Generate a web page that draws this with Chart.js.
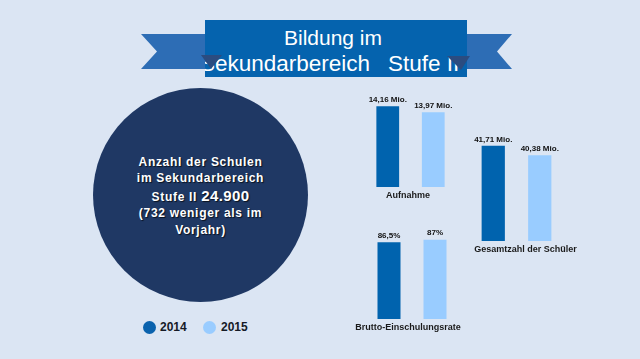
<!DOCTYPE html>
<html>
<head>
<meta charset="utf-8">
<script src="https://cdn.jsdelivr.net/npm/chart.js@4.4.1/dist/chart.umd.min.js"></script>
<style>
  html,body{margin:0;padding:0;}
  body{width:640px;height:359px;background:#dbe5f3;position:relative;overflow:hidden;font-family:"Liberation Sans",Arial,sans-serif;}
  canvas{position:absolute;}
  .circle{position:absolute;left:93px;top:88px;width:215px;height:214px;border-radius:50%;background:#1f3864;}
  .cl{position:absolute;left:93px;width:215px;text-align:center;color:#fff;font-weight:bold;font-size:12px;letter-spacing:0.7px;text-shadow:1px 1px 1px rgba(0,0,0,0.7);white-space:nowrap;}
  .big{font-size:15px;letter-spacing:0.4px;}
  .leg{position:absolute;top:320px;font-weight:bold;font-size:12px;color:#151a26;line-height:14px;}
  .dot{position:absolute;width:13px;height:13px;border-radius:50%;top:321px;}
</style>
</head>
<body>
<svg width="640" height="90" style="position:absolute;left:0;top:0">
  <defs><clipPath id="rc"><rect x="205" y="20" width="262" height="57"/></clipPath></defs>
  <polygon points="141,34 205,34 205,69 141,69 157,51.5" fill="#2d6db5"/>
  <polygon points="467,34 512,34 497,51.5 512,69 467,69" fill="#2d6db5"/>
  <rect x="205" y="20" width="262" height="57" fill="#0563ae"/>
  <text x="333" y="44.5" text-anchor="middle" fill="#fff" font-family="Liberation Sans, Arial, sans-serif" font-size="21">Bildung im</text>
  <g clip-path="url(#rc)">
    <text x="200" y="71" fill="#fff" font-family="Liberation Sans, Arial, sans-serif" font-size="22.5">Sekundarbereich</text>
    <text x="388" y="71" fill="#fff" font-family="Liberation Sans, Arial, sans-serif" font-size="22.5">Stufe II</text>
  </g>
  <polygon points="201,55 222,55 211,69" fill="#2b4c80"/>
  <polygon points="447,56 470,56 461,70" fill="#2b4c80"/>
</svg>

<div class="circle"></div>
<div class="cl" style="top:154px;line-height:16px;">Anzahl der Schulen</div>
<div class="cl" style="top:169.5px;line-height:16px;">im Sekundarbereich</div>
<div class="cl" style="top:187px;line-height:18px;">Stufe II <span class="big">24.900</span></div>
<div class="cl" style="top:205px;line-height:16px;">(732 weniger als im</div>
<div class="cl" style="top:222px;line-height:16px;">Vorjahr)</div>

<div class="dot" style="left:142.5px;background:#0a62ad;"></div>
<div class="leg" style="left:160px;">2014</div>
<div class="dot" style="left:203px;background:#99ccff;"></div>
<div class="leg" style="left:221px;">2015</div>

<canvas id="c1" width="160" height="120" style="left:331px;top:85px;"></canvas>
<canvas id="c2" width="160" height="135" style="left:440px;top:125px;"></canvas>
<canvas id="c3" width="160" height="120" style="left:331px;top:220px;"></canvas>

<script>
// ---- data ----
const years = ['2014', '2015'];
const aufnahme = [14.16, 13.97];          // Mio.
const schueler = [41.71, 40.38];          // Mio.
const einschulung = [86.5, 87];           // %
const catAufnahme = 'Aufnahme';
const catSchueler = 'Gesamtzahl der Schüler';
const catEinschulung = 'Brutto-Einschulungsrate';

const colors = ['#0063ae', '#99ccff'];
const FONT = '"Liberation Sans", Arial, sans-serif';

function fmt(v, suffix) {
  return String(v).replace('.', ',') + suffix;
}

const labelPlugin = {
  id: 'labels',
  afterDatasetsDraw(chart, args, opts) {
    const ctx = chart.ctx;
    const area = chart.chartArea;
    ctx.save();
    ctx.fillStyle = '#111';
    ctx.textAlign = 'center';
    ctx.textBaseline = 'middle';
    ctx.font = 'bold 8px ' + FONT;
    chart.data.datasets.forEach((ds, i) => {
      const meta = chart.getDatasetMeta(i);
      meta.data.forEach((el, j) => {
        ctx.fillText(fmt(ds.data[j], opts.suffix), el.x, el.y - 6.5);
      });
    });
    ctx.font = 'bold 9px ' + FONT;
    ctx.fillStyle = '#1a1a1a';
    ctx.fillText(chart.data.labels[0], (area.left + area.right) / 2 + opts.shift, area.bottom + 9);
    ctx.restore();
  }
};

function makeChart(id, cat, values, min, max, pad, suffix, shift) {
  return new Chart(document.getElementById(id), {
    type: 'bar',
    data: {
      labels: [cat],
      datasets: years.map((y, i) => ({
        label: y,
        data: [values[i]],
        backgroundColor: colors[i],
        categoryPercentage: 1,
        barPercentage: 0.5
      }))
    },
    options: {
      responsive: false,
      animation: false,
      layout: { padding: pad },
      plugins: {
        legend: { display: false },
        tooltip: { enabled: false },
        labels: { suffix: suffix, shift: shift }
      },
      scales: {
        x: { display: false },
        y: { display: false, min: min, max: max }
      }
    },
    plugins: [labelPlugin]
  });
}

makeChart('c1', catAufnahme, aufnahme, 11.6, 14.355, {left: 34, right: 35, top: 15, bottom: 18}, ' Mio.', -2.5);
makeChart('c2', catSchueler, schueler, 28.1, 42.55, {left: 30, right: 37, top: 15, bottom: 19}, ' Mio.', 9);
makeChart('c3', catEinschulung, einschulung, 72.3, 87.86, {left: 35, right: 33, top: 15, bottom: 21}, '%', -4);
</script>
</body>
</html>
